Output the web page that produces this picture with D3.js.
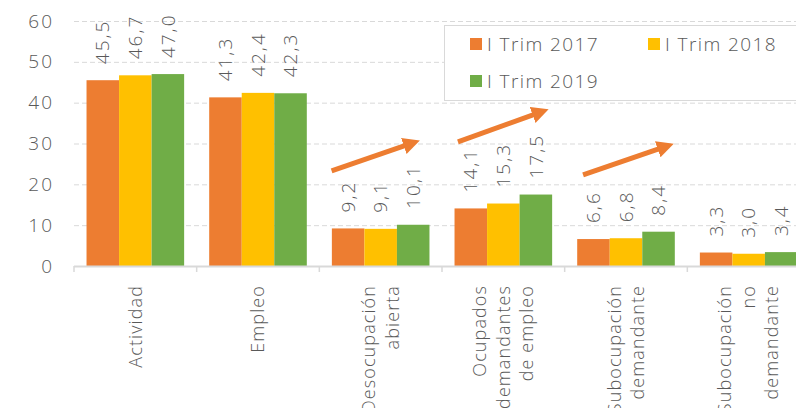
<!doctype html>
<html lang="es">
<head>
<meta charset="utf-8">
<title>Tasas</title>
<script src="https://cdn.jsdelivr.net/npm/d3@7"></script>
<style>
    body { margin: 0; background: #fff; }
    svg { display: block; font-family: "Open Sans", sans-serif; font-weight: 300; }
    .grid line { stroke: #d9d9d9; stroke-dasharray: 5,3; }
    .txt { fill: #595959; }
</style>
</head>
<body>
<svg width="796" height="408"></svg>
<script>
    // categories and series
    var categories = [
        ["Actividad"],
        ["Empleo"],
        ["Desocupación", "abierta"],
        ["Ocupados", "demandantes", "de empleo"],
        ["Subocupación", "demandante"],
        ["Subocupación", "no", "demandante"]
    ];
    var seriesNames = ["I Trim 2017", "I Trim 2018", "I Trim 2019"];
    var trim2017 = [45.5, 41.3, 9.2, 14.1, 6.6, 3.3];
    var trim2018 = [46.7, 42.4, 9.1, 15.3, 6.8, 3.0];
    var trim2019 = [47.0, 42.3, 10.1, 17.5, 8.4, 3.4];
    var yTicks = [0, 10, 20, 30, 40, 50, 60];
    var colors = ["#ED7D31", "#FFC000", "#70AD47"];
    // trend arrows: [category position start, value start, position end, value end]
    var arrows = [
        [2.10, 23.3, 2.78, 30.4],
        [3.13, 30.4, 3.83, 38.0],
        [4.15, 22.3, 4.85, 29.6]
    ];

    var series = [trim2017, trim2018, trim2019];
    var svg = d3.select("svg");
    var plotL = 74, plotR = 810, plotT = 21, plotB = 266;

    var x = d3.scaleBand().domain(d3.range(categories.length)).range([plotL, plotR]).paddingInner(0).paddingOuter(0);
    var xi = d3.scaleBand().domain(d3.range(series.length)).range([0, x.bandwidth()]).paddingInner(0).paddingOuter(0.385);
    var y = d3.scaleLinear().domain([0, 60]).range([plotB, plotT]);
    var xPos = d3.scaleLinear().domain([0, categories.length]).range([plotL, plotR]);

    var fmt = d3.formatLocale({decimal: ",", thousands: ".", grouping: [3], currency: ["", ""]}).format(".1f");

    // gridlines
    svg.append("g").attr("class", "grid")
        .selectAll("line").data(yTicks.slice(1)).enter().append("line")
        .attr("x1", plotL).attr("x2", 796)
        .attr("y1", function (d) { return y(d) + 0.5; })
        .attr("y2", function (d) { return y(d) + 0.5; });

    // y labels
    svg.append("g").selectAll("text").data(yTicks).enter().append("text")
        .attr("class", "txt")
        .attr("x", 54).attr("y", function (d) { return y(d); })
        .attr("dy", "0.35em").attr("text-anchor", "end")
        .style("font-size", "19px").style("letter-spacing", "2px")
        .text(function (d) { return d; });

    // bars
    var groups = svg.append("g").selectAll("g").data(categories).enter().append("g")
        .attr("transform", function (d, i) { return "translate(" + x(i) + ",0)"; });

    groups.each(function (c, i) {
        var g = d3.select(this);
        series.forEach(function (s, k) {
            g.append("rect")
                .attr("x", xi(k)).attr("width", xi.bandwidth())
                .attr("y", y(s[i])).attr("height", y(0) - y(s[i]))
                .attr("fill", colors[k]);
            var cx = xi(k) + xi.bandwidth() / 2;
            var ty = y(s[i]) - 16;
            g.append("text")
                .attr("class", "txt")
                .attr("transform", "translate(" + cx + "," + ty + ") rotate(-90)")
                .attr("dy", "0.35em")
                .style("font-size", "19px").style("letter-spacing", "2px")
                .text(fmt(s[i]));
        });
    });

    // x axis
    svg.append("line").attr("x1", plotL).attr("x2", 796)
        .attr("y1", plotB + 0.5).attr("y2", plotB + 0.5)
        .attr("stroke", "#d9d9d9").attr("stroke-width", 2);
    svg.append("g").selectAll("line").data(d3.range(categories.length + 1)).enter().append("line")
        .attr("x1", function (d) { return xPos(d); }).attr("x2", function (d) { return xPos(d); })
        .attr("y1", plotB).attr("y2", plotB + 6)
        .attr("stroke", "#d9d9d9").attr("stroke-width", 1.5);

    // category labels
    categories.forEach(function (lines, i) {
        var cx = x(i) + x.bandwidth() / 2;
        var n = lines.length;
        lines.forEach(function (l, j) {
            var lx = cx + (j - (n - 1) / 2) * 23.5;
            svg.append("text").attr("class", "txt")
                .attr("transform", "translate(" + lx + ",285) rotate(-90)")
                .attr("text-anchor", "end").attr("dy", "0.35em")
                .style("font-size", "18px").style("letter-spacing", "1.1px")
                .text(l);
        });
    });

    // arrows
    svg.append("defs").append("marker")
        .attr("id", "head").attr("viewBox", "0 0 10 10")
        .attr("refX", 2).attr("refY", 5)
        .attr("markerWidth", 3.4).attr("markerHeight", 3.4)
        .attr("orient", "auto")
        .append("path").attr("d", "M0,0 L10,5 L0,10 Z").attr("fill", "#ED7D31");
    svg.append("g").selectAll("line").data(arrows).enter().append("line")
        .attr("x1", function (d) { return xPos(d[0]); })
        .attr("y1", function (d) { return y(d[1]); })
        .attr("x2", function (d) { return xPos(d[2]) - 8; })
        .attr("y2", function (d) { return y(d[3]) + 3; })
        .attr("stroke", "#ED7D31").attr("stroke-width", 5)
        .attr("marker-end", "url(#head)");

    // legend
    var lg = svg.append("g");
    lg.append("rect").attr("x", 444.5).attr("y", 25.5).attr("width", 352).attr("height", 75)
        .attr("fill", "#fff").attr("stroke", "#d9d9d9");
    var legendPos = [[470, 44], [648, 44], [470, 81]];
    seriesNames.forEach(function (n, k) {
        lg.append("rect").attr("x", legendPos[k][0]).attr("y", legendPos[k][1] - 6)
            .attr("width", 12).attr("height", 12).attr("fill", colors[k]);
        lg.append("text").attr("class", "txt")
            .attr("x", legendPos[k][0] + 17).attr("y", legendPos[k][1])
            .attr("dy", "0.35em").style("font-size", "19px").style("letter-spacing", "1.4px")
            .text(n);
    });
</script>
</body>
</html>
